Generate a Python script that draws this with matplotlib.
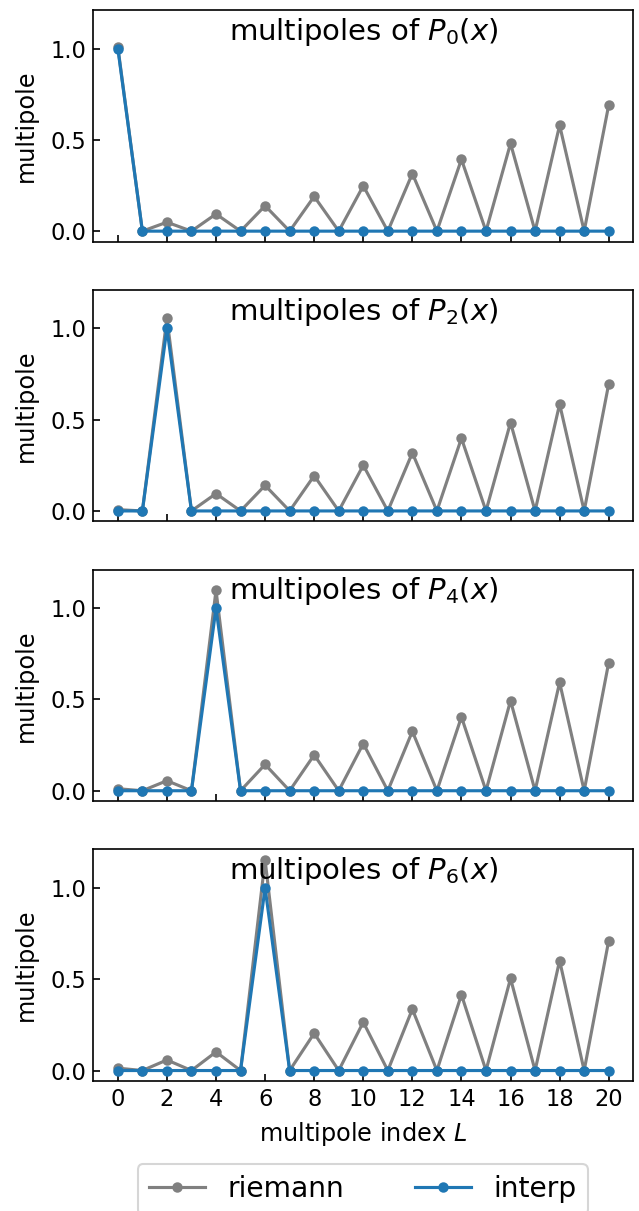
import numpy as np
import matplotlib
matplotlib.use('Agg')
import matplotlib.pyplot as plt

# multipole index L
ell = np.arange(21)

# riemann-sum multipoles for each Legendre target P_n(x)
riemann_p0 = [1.009, 0.0, 0.049, 0.0, 0.094, 0.0, 0.139, 0.0, 0.190, 0.0, 0.248,
              0.0, 0.315, 0.0, 0.393, 0.0, 0.480, 0.0, 0.580, 0.0, 0.690]
riemann_p2 = [0.007, 0.0, 1.055, 0.0, 0.095, 0.0, 0.140, 0.0, 0.193, 0.0, 0.250,
              0.0, 0.318, 0.0, 0.398, 0.0, 0.484, 0.0, 0.585, 0.0, 0.695]
riemann_p4 = [0.011, 0.0, 0.055, 0.0, 1.098, 0.0, 0.144, 0.0, 0.196, 0.0, 0.258,
              0.0, 0.325, 0.0, 0.404, 0.0, 0.493, 0.0, 0.593, 0.0, 0.702]
riemann_p6 = [0.013, 0.0, 0.058, 0.0, 0.102, 0.0, 1.153, 0.0, 0.204, 0.0, 0.265,
              0.0, 0.336, 0.0, 0.415, 0.0, 0.504, 0.0, 0.602, 0.0, 0.711]

# interpolated multipoles: exact delta at L = n
interp_p0 = [1.0] + [0.0] * 20
interp_p2 = [0.0] * 2 + [1.0] + [0.0] * 18
interp_p4 = [0.0] * 4 + [1.0] + [0.0] * 16
interp_p6 = [0.0] * 6 + [1.0] + [0.0] * 14

orders = [0, 2, 4, 6]
riemann = [riemann_p0, riemann_p2, riemann_p4, riemann_p6]
interp = [interp_p0, interp_p2, interp_p4, interp_p6]

fig, axes = plt.subplots(4, 1, sharex=True, sharey=True,
                         figsize=(639 / 150, 1211 / 150), dpi=150)
fig.subplots_adjust(left=0.146, right=0.991, top=0.9917, bottom=0.1073,
                    hspace=0.208)

for ax, n, r, p in zip(axes, orders, riemann, interp):
    ax.plot(ell, r, '.-', color='gray', ms=8, lw=1.5, label='riemann')
    ax.plot(ell, p, '.-', color='tab:blue', ms=8, lw=1.5, label='interp')
    ax.text(0.5, 0.975, r'multipoles of $P_{%d}(x)$' % n, transform=ax.transAxes,
            ha='center', va='top', fontsize=14)
    ax.set_ylabel('multipole', fontsize=11.5, labelpad=6)
    ax.tick_params(direction='in', labelsize=10.8)
    ax.set_yticks([0.0, 0.5, 1.0])

axes[-1].set_xticks(np.arange(0, 21, 2))
axes[-1].set_xlabel('multipole index $L$', fontsize=11.5)

handles, labels = axes[0].get_legend_handles_labels()
fig.legend(handles, labels, loc='upper center', ncol=2, fontsize=13.5,
           bbox_to_anchor=(0.568, 0.0388), borderaxespad=0, columnspacing=2.5)

fig.savefig('out.png', dpi=150)
